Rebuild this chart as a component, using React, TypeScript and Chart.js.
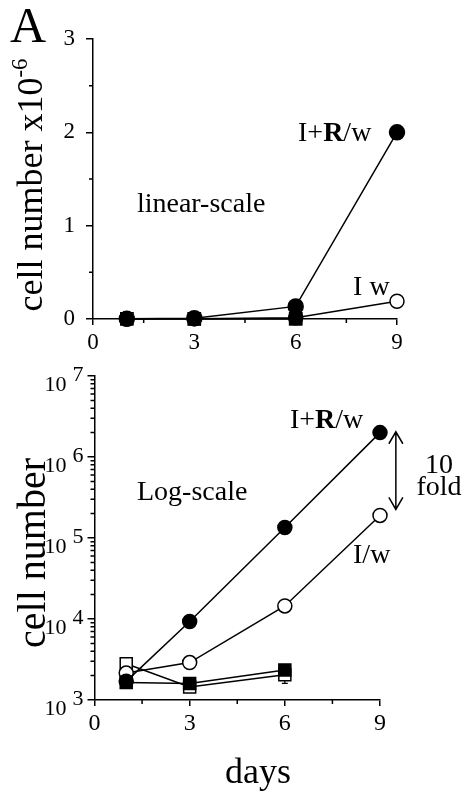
import React, { useEffect, useRef } from 'react';
import { Chart, registerables } from 'chart.js';

Chart.register(...registerables);

const FONT = '"Liberation Serif", "Times New Roman", Times, serif';

// ---- data (cells per well) ----
const days = [1, 3, 6, 9];
const squareDays = [1, 3, 6];
const iPlusRw = [1700, 9300, 135000, 2000000]; // I+R/w, filled circles
const iw = [2150, 2900, 14500, 190000]; // I/w, open circles
const filledSquares = [1650, 1600, 2350];
const openSquares = [2800, 1450, 2050];
const openSquareErr = [250, 150, 450];

// ---- ticks ----
const dayTicks = [0, 3, 6, 9];
const dayMinorTicks = [1.5, 4.5, 7.5];
const linearTicks = [0, 1, 2, 3];
const linearMinorTicks = [0.5, 1.5, 2.5];
const logExponents = [3, 4, 5, 6, 7];
const logMinorMultipliers = [2, 3, 4, 5, 6, 7, 8, 9];
const linearDivisor = 1e6;

type Part = { t: string; bold?: boolean; sup?: boolean };
type Note = { parts: Part[]; x: number; y: number; align?: 'left' | 'center' };

const richLabel: Part[] = [{ t: 'I+' }, { t: 'R', bold: true }, { t: '/w' }];

const topNotes: Note[] = [
  { parts: [{ t: 'linear-scale' }], x: 1.3, y: 1.15 },
  { parts: richLabel, x: 6.07, y: 1.91 },
  { parts: [{ t: 'I w' }], x: 7.7, y: 0.26 },
];
const bottomNotes: Note[] = [
  { parts: [{ t: 'Log-scale' }], x: 1.34, y: 2.94e5 },
  { parts: richLabel, x: 6.16, y: 2.28e6 },
  { parts: [{ t: 'I/w' }], x: 8.15, y: 4.9e4 },
  { parts: [{ t: '10' }], x: 10.86, y: 6.34e5, align: 'center' },
  { parts: [{ t: 'fold' }], x: 10.86, y: 3.4e5, align: 'center' },
];
const foldArrow = { x: 9.5, from: 2.05e6, to: 2.25e5 };

function drawParts(
  ctx: CanvasRenderingContext2D,
  parts: Part[],
  x: number,
  y: number,
  size: number,
  align: 'left' | 'center' = 'left'
) {
  const fontFor = (p: Part) =>
    `${p.bold ? 'bold ' : ''}${p.sup ? Math.round(size * 0.65) : size}px ${FONT}`;
  const widths = parts.map((p) => {
    ctx.font = fontFor(p);
    return ctx.measureText(p.t).width;
  });
  const total = widths.reduce((a, b) => a + b, 0);
  let cx = align === 'center' ? x - total / 2 : x;
  ctx.textAlign = 'left';
  ctx.textBaseline = 'alphabetic';
  parts.forEach((p, i) => {
    ctx.font = fontFor(p);
    ctx.fillText(p.t, cx, p.sup ? y - size * 0.42 : y);
    cx += widths[i];
  });
}

function makeDatasets(divisor: number, circleRadius: number) {
  const pts = (xs: number[], ys: number[]) => xs.map((x, i) => ({ x, y: ys[i] / divisor }));
  const base = {
    borderColor: '#000',
    borderWidth: 1.5,
    pointBorderColor: '#000',
    pointBorderWidth: 1.5,
    clip: false as any,
    tension: 0,
    showLine: true,
  };
  return [
    { ...base, label: 'I+R/w', data: pts(days, iPlusRw), pointStyle: 'circle', pointRadius: circleRadius, pointBackgroundColor: '#000', order: 1 },
    { ...base, label: 'filled squares', data: pts(squareDays, filledSquares), pointStyle: 'rect', pointRadius: 8.5, pointBackgroundColor: '#000', order: 2 },
    { ...base, label: 'I/w', data: pts(days, iw), pointStyle: 'circle', pointRadius: 7, pointBackgroundColor: '#fff', order: 3 },
    { ...base, label: 'open squares', data: pts(squareDays, openSquares), pointStyle: 'rect', pointRadius: 8.5, pointBackgroundColor: '#fff', order: 4 },
  ];
}

const axisStyle = (tickLength: number) => ({
  grid: { drawOnChartArea: false, drawTicks: true, tickLength, color: '#000', lineWidth: 1.5 },
  border: { display: true, color: '#000', width: 1.5 },
});

function xAxis(height: number, size: number, padding: number) {
  return {
    type: 'linear',
    min: 0,
    max: 9,
    afterBuildTicks: (s: any) => {
      s.ticks = dayTicks.map((v) => ({ value: v }));
    },
    afterFit: (s: any) => {
      s.height = height;
    },
    ticks: { color: '#000', font: { family: FONT, size }, padding, maxRotation: 0 },
    ...axisStyle(6),
  };
}

function minorTicks(ctx: CanvasRenderingContext2D, chart: any, yVals: number[]) {
  const xs = chart.scales.x;
  const ys = chart.scales.y;
  ctx.lineWidth = 1.5;
  ctx.beginPath();
  dayMinorTicks.forEach((v) => {
    const px = xs.getPixelForValue(v);
    ctx.moveTo(px, ys.bottom);
    ctx.lineTo(px, ys.bottom + 4);
  });
  yVals.forEach((v) => {
    const py = ys.getPixelForValue(v);
    ctx.moveTo(xs.left, py);
    ctx.lineTo(xs.left - 4, py);
  });
  ctx.stroke();
}

function drawNotes(ctx: CanvasRenderingContext2D, chart: any, notes: Note[], size: number) {
  const xs = chart.scales.x;
  const ys = chart.scales.y;
  notes.forEach((n) => {
    drawParts(ctx, n.parts, xs.getPixelForValue(n.x), ys.getPixelForValue(n.y), size, n.align || 'left');
  });
}

const topPlugin = {
  id: 'topOverlay',
  afterDraw(chart: any) {
    const ctx: CanvasRenderingContext2D = chart.ctx;
    ctx.save();
    ctx.fillStyle = '#000';
    ctx.strokeStyle = '#000';
    minorTicks(ctx, chart, linearMinorTicks);
    drawNotes(ctx, chart, topNotes, 28);
    // panel letter
    drawParts(ctx, [{ t: 'A' }], 10, 42, 50);
    // rotated y title
    ctx.save();
    ctx.translate(42, 185);
    ctx.rotate(-Math.PI / 2);
    drawParts(ctx, [{ t: 'cell number x10' }, { t: '-6', sup: true }], 0, 0, 36, 'center');
    ctx.restore();
    ctx.restore();
  },
};

const bottomPlugin = {
  id: 'bottomOverlay',
  beforeDatasetsDraw(chart: any) {
    const ctx: CanvasRenderingContext2D = chart.ctx;
    const xs = chart.scales.x;
    const ys = chart.scales.y;
    ctx.save();
    ctx.strokeStyle = '#000';
    ctx.lineWidth = 1.2;
    ctx.beginPath();
    squareDays.forEach((d, i) => {
      const px = xs.getPixelForValue(d);
      const lo = ys.getPixelForValue(openSquares[i] - openSquareErr[i]);
      const hi = ys.getPixelForValue(openSquares[i] + openSquareErr[i]);
      ctx.moveTo(px, lo);
      ctx.lineTo(px, hi);
      ctx.moveTo(px - 3, lo);
      ctx.lineTo(px + 3, lo);
      ctx.moveTo(px - 3, hi);
      ctx.lineTo(px + 3, hi);
    });
    ctx.stroke();
    ctx.restore();
  },
  afterDraw(chart: any) {
    const ctx: CanvasRenderingContext2D = chart.ctx;
    const xs = chart.scales.x;
    const ys = chart.scales.y;
    ctx.save();
    ctx.fillStyle = '#000';
    ctx.strokeStyle = '#000';
    const minor: number[] = [];
    logExponents.slice(0, -1).forEach((e) => logMinorMultipliers.forEach((m) => minor.push(m * Math.pow(10, e))));
    minorTicks(ctx, chart, minor);
    // log tick labels 10^n
    logExponents.forEach((e) => {
      const py = ys.getPixelForValue(Math.pow(10, e));
      ctx.font = `22px ${FONT}`;
      ctx.textBaseline = 'alphabetic';
      ctx.textAlign = 'right';
      ctx.fillText('10', xs.left - 28, py + 15);
      ctx.textAlign = 'left';
      ctx.fillText(String(e), xs.left - 22, py + 5);
    });
    drawNotes(ctx, chart, bottomNotes, 28);
    // fold arrow
    const ax = xs.getPixelForValue(foldArrow.x);
    const a1 = ys.getPixelForValue(foldArrow.from);
    const a2 = ys.getPixelForValue(foldArrow.to);
    ctx.lineWidth = 1.5;
    ctx.beginPath();
    ctx.moveTo(ax, a1);
    ctx.lineTo(ax, a2);
    ctx.moveTo(ax - 7, a1 + 12);
    ctx.lineTo(ax, a1);
    ctx.lineTo(ax + 7, a1 + 12);
    ctx.moveTo(ax - 7, a2 - 12);
    ctx.lineTo(ax, a2);
    ctx.lineTo(ax + 7, a2 - 12);
    ctx.stroke();
    // titles
    drawParts(ctx, [{ t: 'days' }], 258, 423, 36, 'center');
    ctx.save();
    ctx.translate(45, 193);
    ctx.rotate(-Math.PI / 2);
    drawParts(ctx, [{ t: 'cell number' }], 0, 0, 40, 'center');
    ctx.restore();
    ctx.restore();
  },
};

function TopChart() {
  const ref = useRef<HTMLCanvasElement>(null);
  useEffect(() => {
    const chart = new Chart(ref.current as HTMLCanvasElement, {
      type: 'line',
      data: { datasets: makeDatasets(linearDivisor, 7.5) as any },
      options: {
        animation: false,
        responsive: false,
        devicePixelRatio: 1,
        layout: { padding: { left: 8, top: 39, right: 70, bottom: 0 } },
        plugins: { legend: { display: false }, tooltip: { enabled: false } },
        scales: {
          x: xAxis(41, 23, 4) as any,
          y: {
            type: 'linear',
            min: 0,
            max: 3,
            afterBuildTicks: (s: any) => {
              s.ticks = linearTicks.map((v) => ({ value: v }));
            },
            afterFit: (s: any) => {
              s.width = 85;
            },
            ticks: { color: '#000', font: { family: FONT, size: 23 }, padding: 11 },
            ...axisStyle(7),
          } as any,
        },
      },
      plugins: [topPlugin],
    });
    return () => chart.destroy();
  }, []);
  return <canvas ref={ref} width={467} height={360} style={{ display: 'block', width: 467, height: 360 }} />;
}

function BottomChart() {
  const ref = useRef<HTMLCanvasElement>(null);
  useEffect(() => {
    const chart = new Chart(ref.current as HTMLCanvasElement, {
      type: 'line',
      data: { datasets: makeDatasets(1, 7) as any },
      options: {
        animation: false,
        responsive: false,
        devicePixelRatio: 1,
        layout: { padding: { left: 8, top: 16, right: 87, bottom: 0 } },
        plugins: { legend: { display: false }, tooltip: { enabled: false } },
        scales: {
          x: xAxis(93, 24, 3) as any,
          y: {
            type: 'logarithmic',
            min: 1000,
            max: 1e7,
            afterBuildTicks: (s: any) => {
              s.ticks = logExponents.map((e) => ({ value: Math.pow(10, e), major: true }));
            },
            afterFit: (s: any) => {
              s.width = 86.5;
            },
            ticks: { display: false },
            ...axisStyle(7),
          } as any,
        },
      },
      plugins: [bottomPlugin],
    });
    return () => chart.destroy();
  }, []);
  return <canvas ref={ref} width={467} height={433} style={{ display: 'block', width: 467, height: 433 }} />;
}

export default function App() {
  return (
    <div style={{ position: 'absolute', left: 0, top: 0, width: 467, height: 793, background: '#fff' }}>
      <TopChart />
      <BottomChart />
    </div>
  );
}
